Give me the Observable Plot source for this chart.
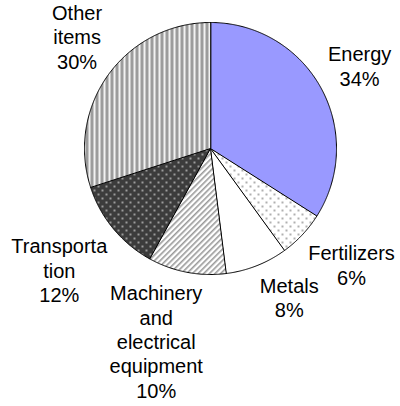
<!DOCTYPE html>
<html><head><meta charset="utf-8">
<script src="https://cdn.jsdelivr.net/npm/d3@7"></script>
<script src="https://cdn.jsdelivr.net/npm/@observablehq/plot@0.6"></script>
<style>html,body{margin:0;padding:0;background:#fff;}</style>
</head><body><div id="chart"></div>
<script>
// ---- data ----
const categories = ["Energy", "Fertilizers", "Metals", "Machinery and electrical equipment", "Transportation", "Other items"];
const labelLines = [["Energy"], ["Fertilizers"], ["Metals"], ["Machinery", "and", "electrical", "equipment"], ["Transporta", "tion"], ["Other", "items"]];
const shares = [34, 6, 8, 10, 12, 30];
const fills = ["url(#p-energy)", "url(#p-fert)", "url(#p-metals)", "url(#p-mach)", "url(#p-trans)", "url(#p-other)"];

// ---- layout ----
const W = 400, H = 406, CX = 210, CY = 148, R = 126;
const FS = 20, LH = 1.22, FONT = '"Liberation Sans", Arial, sans-serif';
const GAP = 8;

const pie = d3.pie().sort(null).value(i => shares[i])(d3.range(shares.length));

// polygons for each slice in unit coordinates (x right, y up)
const slices = pie.map(p => {
  const pts = [{x: 0, y: 0}];
  const n = Math.max(2, Math.ceil((p.endAngle - p.startAngle) / (Math.PI / 360)));
  for (let k = 0; k <= n; k++) {
    const a = p.startAngle + (p.endAngle - p.startAngle) * k / n;
    pts.push({x: Math.sin(a), y: Math.cos(a)});
  }
  return {i: p.index, pts};
});

// label placement (Excel-like: box corner touches the radial point)
const ctx = document.createElement("canvas").getContext("2d");
ctx.font = `${FS}px ${FONT}`;
const clamp = (v) => Math.max(-1, Math.min(1, v));
const labels = pie.map(p => {
  const i = p.index;
  const lines = [...labelLines[i], `${shares[i]}%`];
  const a = (p.startAngle + p.endAngle) / 2;
  const s = Math.sin(a), c = Math.cos(a);
  const hw = d3.max(lines, l => ctx.measureText(l).width) / 2;
  const hh = lines.length * FS * LH / 2;
  const px = CX + (R + GAP) * s;
  const py = CY - (R + GAP) * c;
  const bx = px + hw * clamp(s / 0.3);
  const by = py - hh * clamp(c / 0.65);
  return {x: (bx - CX) / R, y: (CY - by) / R, text: lines.join("\n")};
});

const marks = slices.map(s => Plot.line(s.pts, {
  x: "x", y: "y", curve: "linear-closed",
  fill: fills[s.i], stroke: "black", strokeWidth: 1, strokeLinejoin: "round"
}));
marks.push(Plot.text(labels, {
  x: "x", y: "y", text: "text", textAnchor: "middle", lineAnchor: "middle",
  fontSize: FS, lineHeight: LH, fontFamily: FONT, fill: "black"
}));

const svg = Plot.plot({
  width: W, height: H, margin: 0,
  style: {background: "white", overflow: "visible"},
  x: {domain: [-1, 1], range: [CX - R, CX + R], axis: null},
  y: {domain: [-1, 1], range: [CY + R, CY - R], axis: null},
  marks
});

// pattern definitions
const defs = d3.select(svg).insert("defs", ":first-child");
function pat(id, w, h, build, transform) {
  const p = defs.append("pattern").attr("id", id).attr("patternUnits", "userSpaceOnUse")
    .attr("width", w).attr("height", h);
  if (transform) p.attr("patternTransform", transform);
  build(p);
}
pat("p-energy", 8, 8, p => p.append("rect").attr("width", 8).attr("height", 8).attr("fill", "#9999ff"));
pat("p-metals", 8, 8, p => p.append("rect").attr("width", 8).attr("height", 8).attr("fill", "#ffffff"));
pat("p-fert", 8, 8, p => {
  p.append("rect").attr("width", 8).attr("height", 8).attr("fill", "#ffffff");
  p.append("circle").attr("cx", 2).attr("cy", 2).attr("r", 0.9).attr("fill", "#8a8a8a");
  p.append("circle").attr("cx", 6).attr("cy", 6).attr("r", 0.9).attr("fill", "#8a8a8a");
});
pat("p-mach", 4, 4, p => {
  p.append("rect").attr("width", 4).attr("height", 4).attr("fill", "#ffffff");
  p.append("rect").attr("width", 1.6).attr("height", 4).attr("fill", "#9a9a9a");
}, "rotate(45)");
pat("p-trans", 8, 8, p => {
  p.append("rect").attr("width", 8).attr("height", 8).attr("fill", "#3c3c3c");
  p.append("circle").attr("cx", 2).attr("cy", 2).attr("r", 0.9).attr("fill", "#c8c8c8");
  p.append("circle").attr("cx", 6).attr("cy", 6).attr("r", 0.9).attr("fill", "#c8c8c8");
});
pat("p-other", 5, 5, p => {
  p.append("rect").attr("width", 5).attr("height", 5).attr("fill", "#f2f2f2");
  p.append("rect").attr("width", 3).attr("height", 5).attr("fill", "#9c9c9c");
});

document.getElementById("chart").appendChild(svg);
</script>
</body></html>
